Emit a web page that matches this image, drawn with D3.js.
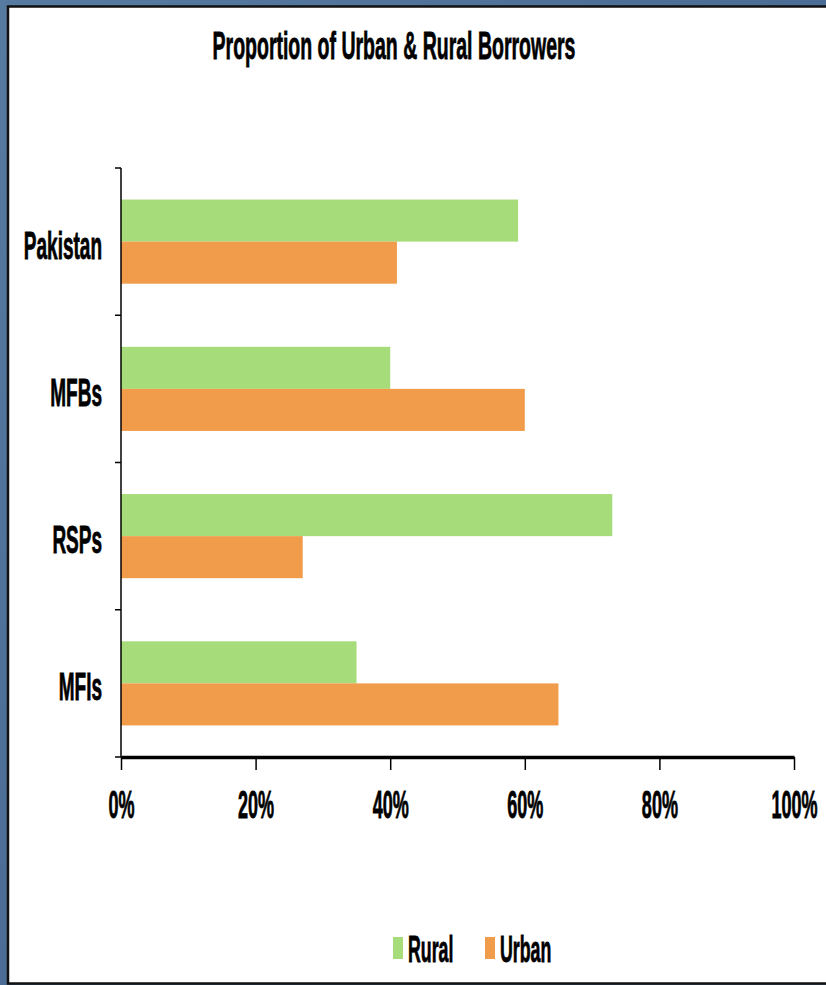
<!DOCTYPE html>
<html>
<head>
<meta charset="utf-8">
<script src="https://cdn.jsdelivr.net/npm/d3@7"></script>
<style>
  body { margin: 0; padding: 0; background: #4f7299; }
  svg { display: block; }
  text { font-family: "Liberation Sans", Arial, sans-serif; font-weight: bold; fill: #000; stroke: #000; stroke-width: 0.8px; }
</style>
</head>
<body>
<div id="chart"></div>
<script>
// data
const categories = ['Pakistan', 'MFBs', 'RSPs', 'MFIs']
const series = ['Rural', 'Urban']
const rural = [0.59, 0.40, 0.73, 0.35]
const urban = [0.41, 0.60, 0.27, 0.65]
const xTicks = [0, 0.2, 0.4, 0.6, 0.8, 1]

const colors = { Rural: '#a7dc7b', Urban: '#f09c4b' }
const squeeze = 0.5   // the font in the picture is very condensed

const W = 826, H = 985

const svg = d3.select('#chart')
  .append('svg')
  .attr('width', W)
  .attr('height', H)

// blue backdrop with a slight mottled look
const defs = svg.append('defs')
const grad = defs.append('linearGradient')
  .attr('id', 'bg')
  .attr('x1', 0).attr('y1', 0).attr('x2', 1).attr('y2', 1)
grad.append('stop').attr('offset', '0%').attr('stop-color', '#577aa1')
grad.append('stop').attr('offset', '50%').attr('stop-color', '#4b6d95')
grad.append('stop').attr('offset', '100%').attr('stop-color', '#56799f')

svg.append('rect')
  .attr('width', W).attr('height', H)
  .attr('fill', 'url(#bg)')

// white panel with dark frame
svg.append('rect')
  .attr('x', 8).attr('y', 6.5)
  .attr('width', W + 10).attr('height', 977)
  .attr('fill', '#fff')
  .attr('stroke', '#111')
  .attr('stroke-width', 2.5)

// scales
const x = d3.scaleLinear()
  .domain([0, 1])
  .range([121, 794])

const y = d3.scaleBand()
  .domain(categories)
  .range([168, 757])
  .padding(0)

const ySub = d3.scaleBand()
  .domain(series)
  .range([0, y.bandwidth()])
  .paddingOuter(0.75)
  .paddingInner(0)

const rows = categories.map((c, i) => ({ cat: c, Rural: rural[i], Urban: urban[i] }))

// bars
const groups = svg.selectAll('.cat')
  .data(rows)
  .enter()
  .append('g')
  .attr('class', 'cat')
  .attr('transform', d => `translate(0,${y(d.cat)})`)

groups.selectAll('rect')
  .data(d => series.map(s => ({ s: s, v: d[s] })))
  .enter()
  .append('rect')
  .attr('x', x(0))
  .attr('y', d => ySub(d.s))
  .attr('width', d => x(d.v) - x(0))
  .attr('height', ySub.bandwidth())
  .attr('fill', d => colors[d.s])

// y axis: line, ticks at band edges, labels centred in bands
svg.append('line')
  .attr('x1', x(0)).attr('x2', x(0))
  .attr('y1', y.range()[0]).attr('y2', y.range()[1])
  .attr('stroke', '#000')
  .attr('stroke-width', 1.5)

const edges = categories.map(c => y(c)).concat([y.range()[1]])
svg.selectAll('.ytick')
  .data(edges)
  .enter()
  .append('line')
  .attr('class', 'ytick')
  .attr('x1', x(0) - 6).attr('x2', x(0))
  .attr('y1', d => d).attr('y2', d => d)
  .attr('stroke', '#000')
  .attr('stroke-width', 1.5)

svg.selectAll('.ylabel')
  .data(categories)
  .enter()
  .append('text')
  .attr('class', 'ylabel')
  .attr('transform', d => `translate(102,${y(d) + y.bandwidth() / 2 + 17}) scale(${squeeze},1)`)
  .attr('text-anchor', 'end')
  .style('font-size', '38px')
  .text(d => d)

// x axis
const xAxis = svg.append('g')
  .attr('transform', `translate(0,${y.range()[1]})`)
  .call(d3.axisBottom(x)
    .tickValues(xTicks)
    .tickFormat(d3.format('.0%'))
    .tickSize(13)
    .tickSizeOuter(0))

xAxis.select('.domain')
  .attr('stroke', '#000')
  .attr('stroke-width', 3.5)
xAxis.selectAll('.tick line')
  .attr('stroke', '#000')
  .attr('stroke-width', 1.5)
xAxis.selectAll('.tick text')
  .attr('y', 0).attr('dy', 0)
  .attr('transform', `translate(0,61) scale(${squeeze * 0.95},1)`)
  .style('font-size', '38px')
  .style('font-family', '"Liberation Sans", Arial, sans-serif')
  .style('font-weight', 'bold')
  .attr('fill', '#000')
  .attr('stroke', '#000')
  .attr('stroke-width', 0.8)

// title
svg.append('text')
  .attr('transform', `translate(394,59) scale(${squeeze},1)`)
  .attr('text-anchor', 'middle')
  .style('font-size', '39px')
  .text('Proportion of Urban & Rural Borrowers')

// legend
const legendX = { Rural: 393, Urban: 485 }
const legend = svg.selectAll('.legend')
  .data(series)
  .enter()
  .append('g')
  .attr('class', 'legend')
  .attr('transform', d => `translate(${legendX[d]},937)`)

legend.append('rect')
  .attr('width', 10)
  .attr('height', 22)
  .attr('fill', d => colors[d])

legend.append('text')
  .attr('transform', `translate(15,25) scale(${squeeze * 0.96},1)`)
  .style('font-size', '37px')
  .text(d => d)
</script>
</body>
</html>
